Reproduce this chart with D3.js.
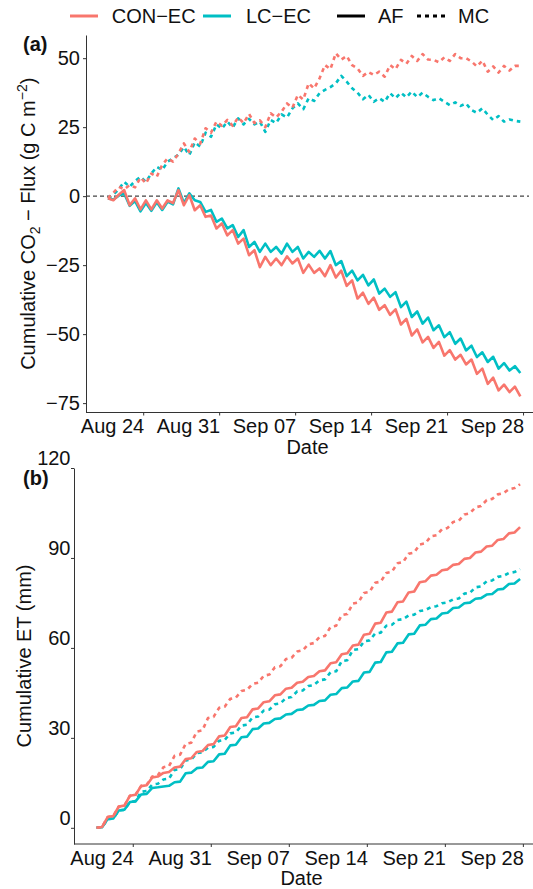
<!DOCTYPE html>
<html>
<head>
<meta charset="utf-8">
<script src="https://cdn.jsdelivr.net/npm/d3@7"></script>
<style>
body { margin: 0; background: #fff; }
svg { display: block; font-family: "Liberation Sans", Arial, sans-serif; }
.axis text { font-size: 20px; fill: #111; }
.axis path, .axis line { stroke: #333; stroke-width: 1; }
.label { font-size: 20px; fill: #111; }
</style>
</head>
<body>
<svg width="533" height="889"></svg>
<script>
"use strict";
// half-daily samples (06:00 / 18:00) starting Aug 20 18:00
const seriesStart = new Date(2021, 7, 20, 18);
const siteNames = ["CON\u2212EC", "LC\u2212EC"];
const methodNames = ["AF", "MC"];
const siteColors = ["#F8766D", "#00BFC4"];
const dateTicks = [new Date(2021, 7, 24), new Date(2021, 7, 31), new Date(2021, 8, 7),
    new Date(2021, 8, 14), new Date(2021, 8, 21), new Date(2021, 8, 28)];
const co2Ticks = [-75, -50, -25, 0, 25, 50];
const etTicks = [0, 30, 60, 90, 120];

// (a) cumulative CO2 flux, g C m-2
const co2ConAF = [-0.8, -1.5, 0.5, 2.2, -3.3, -0.8, -4.8, -1.5, -4.8, -1.5, -4.5, -1.5, -2.5, 2.2, -3.3, 0.4,
    -5.1, -3.3, -7.5, -7.0, -11.7, -9.9, -14.2, -12.3, -17.2, -15.4, -21.4, -19.6, -25.7, -22.0, -25.0, -22.6,
    -25.0, -21.8, -24.4, -22.6, -27.8, -24.8, -27.8, -26.2, -29.0, -25.0, -29.5, -27.0, -32.5, -30.5, -37.1,
    -35.0, -39.0, -36.8, -41.2, -39.5, -43.0, -41.0, -46.5, -44.5, -50.5, -48.3, -53.0, -51.0, -55.0, -52.8,
    -57.8, -55.8, -59.2, -57.5, -61.0, -59.2, -64.4, -62.5, -68.0, -65.8, -70.4, -68.3, -71.0, -69.0, -72.6];
const co2LcAF = [-0.8, -1.2, 0.2, 1.0, -3.5, -1.8, -5.5, -2.5, -5.3, -2.2, -5.0, -2.0, -3.0, 2.8, -2.5, 1.0,
    -1.5, -2.1, -5.7, -5.0, -9.3, -8.1, -11.7, -10.5, -14.8, -12.3, -18.4, -16.6, -20.2, -17.2, -20.2, -18.4,
    -20.8, -17.2, -20.2, -18.4, -22.6, -20.2, -22.0, -19.8, -22.6, -19.9, -25.0, -23.5, -29.0, -27.0, -30.5,
    -28.5, -32.3, -30.2, -35.3, -33.5, -36.5, -34.8, -40.2, -38.2, -43.8, -41.8, -46.2, -44.0, -48.6, -46.8,
    -51.1, -49.3, -53.5, -51.6, -55.9, -54.2, -58.3, -56.6, -60.1, -58.2, -62.5, -60.5, -63.2, -61.6, -64.1];
const co2ConMC = [-0.8, 1.2, 3.4, 2.5, 4.0, 3.2, 6.8, 4.6, 8.2, 7.0, 11.3, 13.7, 12.5, 15.5, 19.1, 16.0,
    20.9, 19.0, 24.6, 23.0, 27.0, 25.5, 27.6, 25.5, 28.5, 26.5, 29.8, 26.5, 27.5, 25.0, 30.0, 28.5,
    30.6, 33.6, 32.0, 36.7, 35.0, 40.9, 39.0, 42.7, 47.5, 46.0, 51.8, 49.5, 50.8, 47.5, 46.3,
    43.6, 45.0, 43.9, 45.1, 43.3, 47.5, 46.0, 49.4, 48.0, 50.8, 49.0, 51.5, 49.5, 49.4, 48.5,
    50.3, 49.0, 51.5, 50.0, 50.0, 48.8, 47.0, 49.1, 45.1, 47.0, 44.8, 47.2, 45.5, 47.2, 47.2];
const co2LcMC = [-0.8, 0.5, 2.5, 5.2, 3.4, 5.5, 7.0, 5.2, 8.2, 10.6, 9.5, 12.5, 13.7, 15.0, 17.8, 14.9,
    19.5, 18.0, 23.0, 21.5, 26.0, 24.5, 27.0, 24.9, 28.2, 26.0, 28.0, 26.0, 27.0, 23.3, 27.6, 26.5,
    29.6, 28.5, 31.8, 33.6, 31.5, 35.5, 34.5, 37.3, 38.5, 39.5, 40.9, 43.6, 41.5, 39.1, 37.5,
    35.1, 36.7, 34.2, 35.5, 34.2, 37.3, 35.5, 37.5, 35.8, 37.9, 35.9, 37.5, 36.0, 34.8, 35.5,
    34.2, 33.0, 34.0, 32.7, 33.6, 31.2, 30.2, 31.8, 29.5, 27.6, 29.0, 27.0, 27.8, 27.3, 27.0];

// (b) cumulative ET, mm
const etConAF = [0, 0.3, 3.6, 3.9, 7.1, 7.4, 10.7, 11.0, 13.9, 14.2, 16.8, 17.1, 18.3, 18.6, 20.1, 20.4,
    22.9, 23.2, 25.3, 25.6, 27.6, 27.9, 30.5, 30.8, 33.6, 33.9, 36.6, 36.9, 39.5, 39.8, 41.9, 42.2,
    44.2, 44.5, 46.4, 46.7, 48.4, 48.7, 50.3, 50.6, 52.2, 52.5, 54.9, 55.2, 57.9, 58.2, 60.8,
    61.1, 64.4, 64.7, 68.1, 68.4, 71.8, 72.1, 75.2, 75.5, 78.5, 78.8, 81.9, 82.2, 84.1, 84.4,
    85.9, 86.2, 87.7, 88.0, 89.7, 90.0, 91.8, 92.1, 93.8, 94.1, 96.0, 96.3, 98.2, 98.5, 100.3];
const etLcAF = [0, 0.2, 2.9, 3.1, 5.8, 6.0, 8.6, 8.8, 11.1, 11.3, 13.3, 13.5, 13.8, 14.0, 15.2, 15.4,
    18.2, 18.4, 19.9, 20.1, 22.0, 22.2, 24.5, 24.7, 27.5, 27.7, 30.2, 30.4, 32.9, 33.1, 34.8, 35.0,
    36.3, 36.5, 37.8, 38.0, 39.3, 39.5, 40.8, 41.0, 42.3, 42.5, 44.4, 44.6, 46.6, 46.8, 48.8,
    49.0, 51.8, 52.0, 55.1, 55.3, 58.5, 58.7, 61.5, 61.7, 64.5, 64.7, 67.5, 67.7, 69.6, 69.8,
    71.5, 71.7, 73.3, 73.5, 74.9, 75.1, 76.4, 76.6, 77.8, 78.0, 79.5, 79.7, 81.3, 81.5, 83.0];
const etConMC = [0, 0.3, 3.6, 3.9, 7.1, 7.4, 10.7, 11.0, 14.0, 14.4, 17.1, 17.5, 20.2, 20.6, 24.0, 24.4,
    28.0, 28.4, 32.1, 32.5, 36.6, 37.0, 40.0, 40.4, 43.0, 43.4, 45.6, 46.0, 48.0, 48.4, 50.7, 51.1,
    53.5, 53.9, 56.3, 56.7, 58.8, 59.2, 61.2, 61.6, 63.6, 64.0, 67.0, 67.4, 70.9, 71.3, 74.8,
    75.2, 78.3, 78.7, 81.7, 82.1, 85.0, 85.4, 88.2, 88.6, 91.4, 91.8, 94.5, 94.9, 97.2, 97.6,
    99.6, 100.0, 102.0, 102.4, 104.5, 104.9, 106.9, 107.3, 109.3, 109.7, 111.2, 111.6, 112.9, 113.3, 114.6];
const etLcMC = [0, 0.2, 2.9, 3.1, 5.8, 6.0, 8.6, 8.9, 12.0, 12.3, 14.4, 14.7, 16.1, 16.4, 19.3, 19.6,
    22.5, 22.8, 24.9, 25.2, 26.7, 27.0, 29.0, 29.3, 31.5, 31.8, 34.1, 34.4, 36.8, 37.1, 39.1, 39.4,
    41.2, 41.5, 43.3, 43.6, 45.5, 45.8, 47.3, 47.6, 49.2, 49.5, 51.9, 52.2, 55.6, 55.9, 59.3,
    59.6, 62.2, 62.5, 64.8, 65.1, 67.4, 67.7, 69.3, 69.6, 70.8, 71.1, 72.3, 72.6, 73.6, 73.9,
    74.9, 75.2, 76.2, 76.5, 78.1, 78.4, 80.2, 80.5, 82.2, 82.5, 83.7, 84.0, 85.0, 85.3, 86.3];

const times = co2ConAF.map((d, i) => d3.timeHour.offset(seriesStart, i * 12));
const xStart = new Date(2021, 7, 18, 17, 30);
const xEnd = new Date(2021, 8, 28, 13, 12);
const svg = d3.select("svg");
const minus = (d) => (d < 0 ? "\u2212" + Math.abs(d) : String(d));

function drawPanel(cfg) {
    const x = d3.scaleTime().domain([xStart, xEnd]).range([cfg.left, cfg.right]);
    const y = d3.scaleLinear().domain(cfg.yDomain).range([cfg.bottom, cfg.top]);
    const g = svg.append("g");
    if (cfg.zeroLine) {
        g.append("line")
            .attr("x1", cfg.left)
            .attr("x2", cfg.right)
            .attr("y1", y(0))
            .attr("y2", y(0))
            .attr("stroke", "#444")
            .attr("stroke-width", 1.1)
            .attr("stroke-dasharray", "4,3");
    }
    const line = d3.line()
        .x((d, i) => x(times[i]))
        .y(d => y(d));
    g.selectAll("path.series")
        .data(cfg.series)
        .enter()
        .append("path")
        .attr("class", "series")
        .attr("d", d => line(d.values))
        .attr("fill", "none")
        .attr("stroke", d => siteColors[d.site])
        .attr("stroke-width", 2.6)
        .attr("stroke-linejoin", "round")
        .attr("stroke-dasharray", d => (d.method === 1 ? "4,4" : null));
    const yAxis = g.append("g")
        .attr("class", "axis")
        .attr("transform", `translate(${cfg.left},0)`)
        .call(d3.axisLeft(y)
        .tickValues(cfg.yTicks)
        .tickSize(3)
        .tickSizeOuter(0)
        .tickPadding(cfg.yPad)
        .tickFormat(minus))
        .attr("font-size", null)
        .attr("font-family", null);
    yAxis.selectAll("text").attr("dy", cfg.yDy);
    const xAxis = g.append("g")
        .attr("class", "axis")
        .attr("transform", `translate(0,${cfg.bottom})`)
        .call(d3.axisBottom(x)
        .tickValues(dateTicks)
        .tickSize(3)
        .tickSizeOuter(0)
        .tickPadding(3.3)
        .tickFormat(d3.timeFormat("%b %d")))
        .attr("font-size", null)
        .attr("font-family", null);
    xAxis.selectAll("text").attr("text-anchor", "end").attr("dx", 0.5);
    // axis line runs on to the page edge as in the original
    xAxis.select(".domain").attr("d", `M${cfg.left},0H533`);
    svg.append("text")
        .attr("class", "label")
        .attr("x", (cfg.left + cfg.right) / 2)
        .attr("y", cfg.bottom + 41)
        .attr("text-anchor", "middle")
        .text("Date");
    svg.append("text")
        .attr("class", "label")
        .attr("x", 23)
        .attr("y", cfg.tagY)
        .style("font-weight", "bold")
        .text(cfg.tag);
    const title = svg.append("text")
        .attr("class", "label")
        .attr("text-anchor", "middle")
        .attr("transform", `translate(${cfg.titleX},${(cfg.top + cfg.bottom) / 2}) rotate(-90)`);
    cfg.title(title);
}

drawPanel({
    left: 86, right: 529, top: 35, bottom: 412.5,
    yDomain: [-78.4, 58.4], yTicks: co2Ticks, yPad: 3, yDy: "0.32em",
    zeroLine: true, tag: "(a)", tagY: 51, titleX: 35,
    series: [
        { site: 1, method: 0, values: co2LcAF },
        { site: 1, method: 1, values: co2LcMC },
        { site: 0, method: 0, values: co2ConAF },
        { site: 0, method: 1, values: co2ConMC }
    ],
    title: (t) => {
        t.append("tspan").text("Cumulative CO");
        t.append("tspan").attr("dy", 5).style("font-size", "14px").text("2");
        t.append("tspan").attr("dy", -5).text(" \u2212 Flux (g C m");
        t.append("tspan").attr("dy", -8).style("font-size", "14px").text("\u22122");
        t.append("tspan").attr("dy", 8).text(")");
    }
});

drawPanel({
    left: 74, right: 529, top: 468, bottom: 844,
    yDomain: [-5.4, 120], yTicks: etTicks, yPad: 0.5, yDy: -3.3,
    zeroLine: false, tag: "(b)", tagY: 485, titleX: 31,
    series: [
        { site: 1, method: 0, values: etLcAF },
        { site: 1, method: 1, values: etLcMC },
        { site: 0, method: 0, values: etConAF },
        { site: 0, method: 1, values: etConMC }
    ],
    title: (t) => t.text("Cumulative ET (mm)")
});

// legend across the top
const legendItems = [
    { label: siteNames[0], color: siteColors[0], dash: null, x0: 70, tx: 111.7 },
    { label: siteNames[1], color: siteColors[1], dash: null, x0: 203, tx: 246 },
    { label: methodNames[0], color: "#000", dash: null, x0: 337, tx: 378 },
    { label: methodNames[1], color: "#000", dash: "4,4", x0: 417, tx: 458 }
];
const legend = svg.append("g").attr("class", "legend");
legend.selectAll("line")
    .data(legendItems)
    .enter()
    .append("line")
    .attr("x1", d => d.x0)
    .attr("x2", d => d.x0 + 28)
    .attr("y1", 16)
    .attr("y2", 16)
    .attr("stroke", d => d.color)
    .attr("stroke-width", 3)
    .attr("stroke-dasharray", d => d.dash);
legend.selectAll("text")
    .data(legendItems)
    .enter()
    .append("text")
    .attr("class", "label")
    .attr("x", d => d.tx)
    .attr("y", 23.3)
    .text(d => d.label);
</script>
</body>
</html>
